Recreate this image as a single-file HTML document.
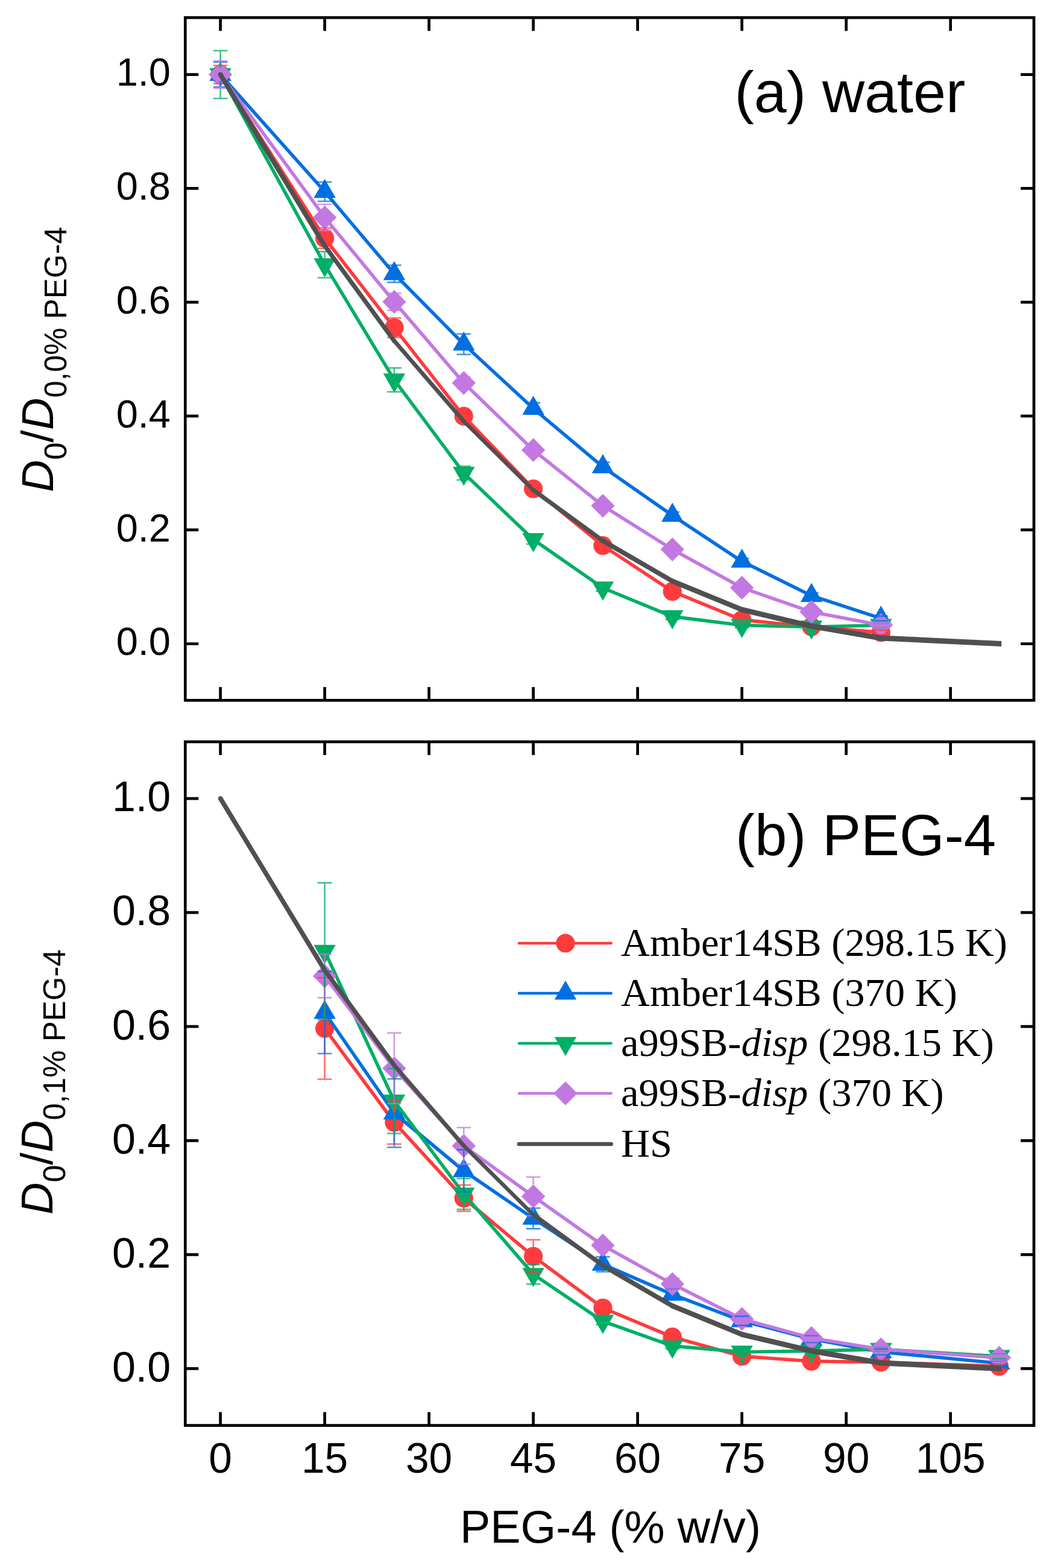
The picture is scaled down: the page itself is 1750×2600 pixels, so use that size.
<!DOCTYPE html>
<html lang="en"><head><meta charset="utf-8"><title>D0 vs PEG-4 concentration</title>
<style>
html,body{margin:0;padding:0;background:#fff;}
body{width:1750px;height:2600px;overflow:hidden;}
svg{display:block;}
</style></head><body>
<svg xmlns="http://www.w3.org/2000/svg" width="1750" height="2600" viewBox="0 0 1750 2600">
<rect width="1750" height="2600" fill="#fff"/>
<defs><clipPath id="ca"><rect x="307.3" y="29.2" width="1407.7" height="1132.05"/></clipPath><clipPath id="cb"><rect x="307.3" y="1230" width="1407.7" height="1133.6"/></clipPath></defs>
<g clip-path="url(#ca)">
<polyline points="365.6,123.6 538.61,395.07 653.95,543.35 769.29,690.22 884.63,810.48 999.97,904.68 1115.31,980.66 1230.65,1027.86 1345.99,1039.18 1461.33,1048.62" fill="none" stroke="#ff3b3d" stroke-width="5.6" stroke-linejoin="round" stroke-linecap="round"/>
<circle cx="365.6" cy="123.6" r="15.6" fill="#ff3b3d"/>
<circle cx="538.61" cy="395.07" r="15.6" fill="#ff3b3d"/>
<circle cx="653.95" cy="543.35" r="15.6" fill="#ff3b3d"/>
<circle cx="769.29" cy="690.22" r="15.6" fill="#ff3b3d"/>
<circle cx="884.63" cy="810.48" r="15.6" fill="#ff3b3d"/>
<circle cx="999.97" cy="904.68" r="15.6" fill="#ff3b3d"/>
<circle cx="1115.31" cy="980.66" r="15.6" fill="#ff3b3d"/>
<circle cx="1230.65" cy="1027.86" r="15.6" fill="#ff3b3d"/>
<circle cx="1345.99" cy="1039.18" r="15.6" fill="#ff3b3d"/>
<circle cx="1461.33" cy="1048.62" r="15.6" fill="#ff3b3d"/>
<polyline points="365.6,123.6 538.61,317.76 653.95,453.97 769.29,570.73 884.63,677.29 999.97,774.14 1115.31,854.65 1230.65,930.82 1345.99,987.65 1461.33,1025.4" fill="none" stroke="#006fe0" stroke-width="5.6" stroke-linejoin="round" stroke-linecap="round"/>
<polygon points="365.6,102.53 383.85,134.14 347.35,134.14" fill="#006fe0"/>
<polygon points="538.61,296.69 556.86,328.3 520.36,328.3" fill="#006fe0"/>
<polygon points="653.95,432.89 672.2,464.5 635.7,464.5" fill="#006fe0"/>
<polygon points="769.29,549.65 787.54,581.26 751.04,581.26" fill="#006fe0"/>
<polygon points="884.63,656.22 902.88,687.83 866.38,687.83" fill="#006fe0"/>
<polygon points="999.97,753.06 1018.22,784.67 981.72,784.67" fill="#006fe0"/>
<polygon points="1115.31,833.58 1133.56,865.19 1097.06,865.19" fill="#006fe0"/>
<polygon points="1230.65,909.75 1248.9,941.36 1212.4,941.36" fill="#006fe0"/>
<polygon points="1345.99,966.57 1364.24,998.18 1327.74,998.18" fill="#006fe0"/>
<polygon points="1461.33,1004.33 1479.58,1035.94 1443.08,1035.94" fill="#006fe0"/>
<polyline points="365.6,123.6 538.61,438.86 653.95,629.91 769.29,784.42 884.63,894.58 999.97,974.81 1115.31,1022.38 1230.65,1036.82 1345.99,1039.47 1461.33,1036.73" fill="none" stroke="#00ae66" stroke-width="5.6" stroke-linejoin="round" stroke-linecap="round"/>
<polygon points="365.6,144.67 383.85,113.06 347.35,113.06" fill="#00ae66"/>
<polygon points="538.61,459.94 556.86,428.33 520.36,428.33" fill="#00ae66"/>
<polygon points="653.95,650.98 672.2,619.37 635.7,619.37" fill="#00ae66"/>
<polygon points="769.29,805.5 787.54,773.89 751.04,773.89" fill="#00ae66"/>
<polygon points="884.63,915.65 902.88,884.04 866.38,884.04" fill="#00ae66"/>
<polygon points="999.97,995.88 1018.22,964.27 981.72,964.27" fill="#00ae66"/>
<polygon points="1115.31,1043.45 1133.56,1011.84 1097.06,1011.84" fill="#00ae66"/>
<polygon points="1230.65,1057.9 1248.9,1026.29 1212.4,1026.29" fill="#00ae66"/>
<polygon points="1345.99,1060.54 1364.24,1028.93 1327.74,1028.93" fill="#00ae66"/>
<polygon points="1461.33,1057.8 1479.58,1026.19 1443.08,1026.19" fill="#00ae66"/>
<polyline points="365.6,123.6 538.61,360.52 653.95,500.5 769.29,635.01 884.63,746.2 999.97,838.6 1115.31,911 1230.65,974.53 1345.99,1014.64 1461.33,1036.54" fill="none" stroke="#c278e2" stroke-width="5.6" stroke-linejoin="round" stroke-linecap="round"/>
<polygon points="365.6,103.9 385.3,123.6 365.6,143.3 345.9,123.6" fill="#c278e2"/>
<polygon points="538.61,340.82 558.31,360.52 538.61,380.22 518.91,360.52" fill="#c278e2"/>
<polygon points="653.95,480.8 673.65,500.5 653.95,520.2 634.25,500.5" fill="#c278e2"/>
<polygon points="769.29,615.31 788.99,635.01 769.29,654.71 749.59,635.01" fill="#c278e2"/>
<polygon points="884.63,726.5 904.33,746.2 884.63,765.9 864.93,746.2" fill="#c278e2"/>
<polygon points="999.97,818.9 1019.67,838.6 999.97,858.3 980.27,838.6" fill="#c278e2"/>
<polygon points="1115.31,891.3 1135.01,911 1115.31,930.7 1095.61,911" fill="#c278e2"/>
<polygon points="1230.65,954.83 1250.35,974.53 1230.65,994.23 1210.95,974.53" fill="#c278e2"/>
<polygon points="1345.99,994.94 1365.69,1014.64 1345.99,1034.34 1326.29,1014.64" fill="#c278e2"/>
<polygon points="1461.33,1016.84 1481.03,1036.54 1461.33,1056.24 1441.63,1036.54" fill="#c278e2"/>
<path d="M353.8 108.5H377.4M353.8 138.7H377.4" stroke="#ff3b3d" stroke-opacity="0.75" stroke-width="2.6" fill="none"/>
<path d="M538.61 378.08V379.47M538.61 410.67V412.06M526.81 378.08H550.41M526.81 412.06H550.41" stroke="#ff3b3d" stroke-opacity="0.75" stroke-width="2.6" fill="none"/>
<path d="M653.95 527.31V527.75M653.95 558.95V559.4M642.15 527.31H665.75M642.15 559.4H665.75" stroke="#ff3b3d" stroke-opacity="0.75" stroke-width="2.6" fill="none"/>
<path d="M757.49 680.78H781.09M757.49 699.66H781.09" stroke="#ff3b3d" stroke-opacity="0.75" stroke-width="2.6" fill="none"/>
<path d="M872.83 804.81H896.43M872.83 816.14H896.43" stroke="#ff3b3d" stroke-opacity="0.75" stroke-width="2.6" fill="none"/>
<path d="M988.17 899.96H1011.77M988.17 909.4H1011.77" stroke="#ff3b3d" stroke-opacity="0.75" stroke-width="2.6" fill="none"/>
<path d="M1103.51 975.94H1127.11M1103.51 985.38H1127.11" stroke="#ff3b3d" stroke-opacity="0.75" stroke-width="2.6" fill="none"/>
<path d="M1218.85 1024.08H1242.45M1218.85 1031.63H1242.45" stroke="#ff3b3d" stroke-opacity="0.75" stroke-width="2.6" fill="none"/>
<path d="M1334.19 1035.41H1357.79M1334.19 1042.96H1357.79" stroke="#ff3b3d" stroke-opacity="0.75" stroke-width="2.6" fill="none"/>
<path d="M1449.53 1044.85H1473.13M1449.53 1052.4H1473.13" stroke="#ff3b3d" stroke-opacity="0.75" stroke-width="2.6" fill="none"/>
<path d="M365.6 134.14V144.37M353.8 102.83H377.4M353.8 144.37H377.4" stroke="#006fe0" stroke-opacity="0.75" stroke-width="2.6" fill="none"/>
<path d="M538.61 328.3V333.81M526.81 301.71H550.41M526.81 333.81H550.41" stroke="#006fe0" stroke-opacity="0.75" stroke-width="2.6" fill="none"/>
<path d="M653.95 464.5V468.12M642.15 439.81H665.75M642.15 468.12H665.75" stroke="#006fe0" stroke-opacity="0.75" stroke-width="2.6" fill="none"/>
<path d="M769.29 581.26V587.72M757.49 553.74H781.09M757.49 587.72H781.09" stroke="#006fe0" stroke-opacity="0.75" stroke-width="2.6" fill="none"/>
<path d="M872.83 667.85H896.43M872.83 686.73H896.43" stroke="#006fe0" stroke-opacity="0.75" stroke-width="2.6" fill="none"/>
<path d="M988.17 766.58H1011.77M988.17 781.69H1011.77" stroke="#006fe0" stroke-opacity="0.75" stroke-width="2.6" fill="none"/>
<path d="M1103.51 848.99H1127.11M1103.51 860.31H1127.11" stroke="#006fe0" stroke-opacity="0.75" stroke-width="2.6" fill="none"/>
<path d="M1218.85 926.1H1242.45M1218.85 935.54H1242.45" stroke="#006fe0" stroke-opacity="0.75" stroke-width="2.6" fill="none"/>
<path d="M1334.19 982.93H1357.79M1334.19 992.37H1357.79" stroke="#006fe0" stroke-opacity="0.75" stroke-width="2.6" fill="none"/>
<path d="M1449.53 1021.63H1473.13M1449.53 1029.18H1473.13" stroke="#006fe0" stroke-opacity="0.75" stroke-width="2.6" fill="none"/>
<path d="M365.6 83.96V113.06M365.6 144.67V163.24M353.8 83.96H377.4M353.8 163.24H377.4" stroke="#00ae66" stroke-opacity="0.75" stroke-width="2.6" fill="none"/>
<path d="M538.61 417.15V428.33M538.61 459.94V460.57M526.81 417.15H550.41M526.81 460.57H550.41" stroke="#00ae66" stroke-opacity="0.75" stroke-width="2.6" fill="none"/>
<path d="M653.95 610.09V619.37M642.15 610.09H665.75M642.15 649.73H665.75" stroke="#00ae66" stroke-opacity="0.75" stroke-width="2.6" fill="none"/>
<path d="M769.29 773.1V773.89M757.49 773.1H781.09M757.49 795.75H781.09" stroke="#00ae66" stroke-opacity="0.75" stroke-width="2.6" fill="none"/>
<path d="M872.83 887.03H896.43M872.83 902.13H896.43" stroke="#00ae66" stroke-opacity="0.75" stroke-width="2.6" fill="none"/>
<path d="M988.17 969.15H1011.77M988.17 980.47H1011.77" stroke="#00ae66" stroke-opacity="0.75" stroke-width="2.6" fill="none"/>
<path d="M1103.51 1017.66H1127.11M1103.51 1027.1H1127.11" stroke="#00ae66" stroke-opacity="0.75" stroke-width="2.6" fill="none"/>
<path d="M1218.85 1033.05H1242.45M1218.85 1040.6H1242.45" stroke="#00ae66" stroke-opacity="0.75" stroke-width="2.6" fill="none"/>
<path d="M1334.19 1035.69H1357.79M1334.19 1043.24H1357.79" stroke="#00ae66" stroke-opacity="0.75" stroke-width="2.6" fill="none"/>
<path d="M1449.53 1032.95H1473.13M1449.53 1040.5H1473.13" stroke="#00ae66" stroke-opacity="0.75" stroke-width="2.6" fill="none"/>
<path d="M365.6 100.95V103.9M365.6 143.3V146.25M353.8 100.95H377.4M353.8 146.25H377.4" stroke="#c278e2" stroke-opacity="0.75" stroke-width="2.6" fill="none"/>
<path d="M538.61 338.81V340.82M538.61 380.22V382.23M526.81 338.81H550.41M526.81 382.23H550.41" stroke="#c278e2" stroke-opacity="0.75" stroke-width="2.6" fill="none"/>
<path d="M642.15 486.34H665.75M642.15 514.66H665.75" stroke="#c278e2" stroke-opacity="0.75" stroke-width="2.6" fill="none"/>
<path d="M757.49 625.57H781.09M757.49 644.44H781.09" stroke="#c278e2" stroke-opacity="0.75" stroke-width="2.6" fill="none"/>
<path d="M872.83 738.65H896.43M872.83 753.75H896.43" stroke="#c278e2" stroke-opacity="0.75" stroke-width="2.6" fill="none"/>
<path d="M988.17 832.94H1011.77M988.17 844.27H1011.77" stroke="#c278e2" stroke-opacity="0.75" stroke-width="2.6" fill="none"/>
<path d="M1103.51 906.28H1127.11M1103.51 915.72H1127.11" stroke="#c278e2" stroke-opacity="0.75" stroke-width="2.6" fill="none"/>
<path d="M1218.85 970.75H1242.45M1218.85 978.3H1242.45" stroke="#c278e2" stroke-opacity="0.75" stroke-width="2.6" fill="none"/>
<path d="M1334.19 1010.87H1357.79M1334.19 1018.42H1357.79" stroke="#c278e2" stroke-opacity="0.75" stroke-width="2.6" fill="none"/>
<path d="M1449.53 1032.76H1473.13M1449.53 1040.32H1473.13" stroke="#c278e2" stroke-opacity="0.75" stroke-width="2.6" fill="none"/>
<path d="M365.6 123.6L538.61 407.71" stroke="#505050" stroke-width="7.69" fill="none"/>
<path d="M538.61 407.71L653.95 565.35" stroke="#505050" stroke-width="7.26" fill="none"/>
<path d="M653.95 565.35L769.29 698.44" stroke="#505050" stroke-width="6.8" fill="none"/>
<path d="M769.29 698.44L884.63 812.65" stroke="#505050" stroke-width="6.4" fill="none"/>
<path d="M884.63 812.65L999.97 896.65" stroke="#505050" stroke-width="7.27" fill="none"/>
<path d="M999.97 896.65L1115.31 963.67" stroke="#505050" stroke-width="7.78" fill="none"/>
<path d="M1115.31 963.67L1230.65 1010.87" stroke="#505050" stroke-width="8.33" fill="none"/>
<path d="M1230.65 1010.87L1345.99 1038.24" stroke="#505050" stroke-width="8.76" fill="none"/>
<path d="M1345.99 1038.24L1461.33 1058.06" stroke="#505050" stroke-width="8.87" fill="none"/>
<path d="M1461.33 1058.06L1661.21 1067.5" stroke="#505050" stroke-width="8.99" fill="none"/>
<circle cx="365.6" cy="123.6" r="3.84" fill="#505050"/>
<circle cx="538.61" cy="407.71" r="3.84" fill="#505050"/>
<circle cx="653.95" cy="565.35" r="3.63" fill="#505050"/>
<circle cx="769.29" cy="698.44" r="3.4" fill="#505050"/>
<circle cx="884.63" cy="812.65" r="3.64" fill="#505050"/>
<circle cx="999.97" cy="896.65" r="3.89" fill="#505050"/>
<circle cx="1115.31" cy="963.67" r="4.16" fill="#505050"/>
<circle cx="1230.65" cy="1010.87" r="4.38" fill="#505050"/>
<circle cx="1345.99" cy="1038.24" r="4.43" fill="#505050"/>
<circle cx="1461.33" cy="1058.06" r="4.49" fill="#505050"/>
</g>
<g clip-path="url(#cb)">
<polyline points="538.61,1705.34 653.95,1861.03 769.29,1986.76 884.63,2083.18 999.97,2168.73 1115.31,2216.94 1230.65,2248.89 1345.99,2257.11 1461.33,2258.72 1657.41,2265.62" fill="none" stroke="#ff3b3d" stroke-width="5.6" stroke-linejoin="round" stroke-linecap="round"/>
<circle cx="538.61" cy="1705.34" r="15.6" fill="#ff3b3d"/>
<circle cx="653.95" cy="1861.03" r="15.6" fill="#ff3b3d"/>
<circle cx="769.29" cy="1986.76" r="15.6" fill="#ff3b3d"/>
<circle cx="884.63" cy="2083.18" r="15.6" fill="#ff3b3d"/>
<circle cx="999.97" cy="2168.73" r="15.6" fill="#ff3b3d"/>
<circle cx="1115.31" cy="2216.94" r="15.6" fill="#ff3b3d"/>
<circle cx="1230.65" cy="2248.89" r="15.6" fill="#ff3b3d"/>
<circle cx="1345.99" cy="2257.11" r="15.6" fill="#ff3b3d"/>
<circle cx="1461.33" cy="2258.72" r="15.6" fill="#ff3b3d"/>
<circle cx="1657.41" cy="2265.62" r="15.6" fill="#ff3b3d"/>
<polyline points="538.61,1678.97 653.95,1845.72 769.29,1941.38 884.63,2020.31 999.97,2096.41 1115.31,2146.32 1230.65,2190.18 1345.99,2220.24 1461.33,2241.7 1657.41,2260.42" fill="none" stroke="#006fe0" stroke-width="5.6" stroke-linejoin="round" stroke-linecap="round"/>
<polygon points="538.61,1657.89 556.86,1689.5 520.36,1689.5" fill="#006fe0"/>
<polygon points="653.95,1824.64 672.2,1856.25 635.7,1856.25" fill="#006fe0"/>
<polygon points="769.29,1920.31 787.54,1951.92 751.04,1951.92" fill="#006fe0"/>
<polygon points="884.63,1999.24 902.88,2030.85 866.38,2030.85" fill="#006fe0"/>
<polygon points="999.97,2075.34 1018.22,2106.95 981.72,2106.95" fill="#006fe0"/>
<polygon points="1115.31,2125.25 1133.56,2156.86 1097.06,2156.86" fill="#006fe0"/>
<polygon points="1230.65,2169.11 1248.9,2200.72 1212.4,2200.72" fill="#006fe0"/>
<polygon points="1345.99,2199.17 1364.24,2230.78 1327.74,2230.78" fill="#006fe0"/>
<polygon points="1461.33,2220.63 1479.58,2252.24 1443.08,2252.24" fill="#006fe0"/>
<polygon points="1657.41,2239.35 1675.66,2270.96 1639.16,2270.96" fill="#006fe0"/>
<polyline points="538.61,1577.35 653.95,1825.58 769.29,1979.67 884.63,2113.05 999.97,2190.85 1115.31,2231.87 1230.65,2241.8 1345.99,2240.1 1461.33,2237.35 1657.41,2249.08" fill="none" stroke="#00ae66" stroke-width="5.6" stroke-linejoin="round" stroke-linecap="round"/>
<polygon points="538.61,1598.42 556.86,1566.81 520.36,1566.81" fill="#00ae66"/>
<polygon points="653.95,1846.65 672.2,1815.05 635.7,1815.05" fill="#00ae66"/>
<polygon points="769.29,2000.74 787.54,1969.13 751.04,1969.13" fill="#00ae66"/>
<polygon points="884.63,2134.12 902.88,2102.51 866.38,2102.51" fill="#00ae66"/>
<polygon points="999.97,2211.92 1018.22,2180.31 981.72,2180.31" fill="#00ae66"/>
<polygon points="1115.31,2252.94 1133.56,2221.33 1097.06,2221.33" fill="#00ae66"/>
<polygon points="1230.65,2262.87 1248.9,2231.26 1212.4,2231.26" fill="#00ae66"/>
<polygon points="1345.99,2261.17 1364.24,2229.56 1327.74,2229.56" fill="#00ae66"/>
<polygon points="1461.33,2258.43 1479.58,2226.82 1443.08,2226.82" fill="#00ae66"/>
<polygon points="1657.41,2270.15 1675.66,2238.54 1639.16,2238.54" fill="#00ae66"/>
<polyline points="538.61,1618.47 653.95,1771.42 769.29,1900.07 884.63,1983.82 999.97,2065.12 1115.31,2129.12 1230.65,2187.06 1345.99,2218.64 1461.33,2237.35 1657.41,2251.34" fill="none" stroke="#c278e2" stroke-width="5.6" stroke-linejoin="round" stroke-linecap="round"/>
<polygon points="538.61,1598.77 558.31,1618.47 538.61,1638.17 518.91,1618.47" fill="#c278e2"/>
<polygon points="653.95,1751.72 673.65,1771.42 653.95,1791.12 634.25,1771.42" fill="#c278e2"/>
<polygon points="769.29,1880.37 788.99,1900.07 769.29,1919.77 749.59,1900.07" fill="#c278e2"/>
<polygon points="884.63,1964.12 904.33,1983.82 884.63,2003.52 864.93,1983.82" fill="#c278e2"/>
<polygon points="999.97,2045.42 1019.67,2065.12 999.97,2084.82 980.27,2065.12" fill="#c278e2"/>
<polygon points="1115.31,2109.42 1135.01,2129.12 1115.31,2148.82 1095.61,2129.12" fill="#c278e2"/>
<polygon points="1230.65,2167.36 1250.35,2187.06 1230.65,2206.76 1210.95,2187.06" fill="#c278e2"/>
<polygon points="1345.99,2198.94 1365.69,2218.64 1345.99,2238.34 1326.29,2218.64" fill="#c278e2"/>
<polygon points="1461.33,2217.65 1481.03,2237.35 1461.33,2257.05 1441.63,2237.35" fill="#c278e2"/>
<polygon points="1657.41,2231.64 1677.11,2251.34 1657.41,2271.04 1637.71,2251.34" fill="#c278e2"/>
<path d="M538.61 1621.21V1689.74M538.61 1720.94V1789.47M526.81 1621.21H550.41M526.81 1789.47H550.41" stroke="#ff3b3d" stroke-opacity="0.75" stroke-width="2.6" fill="none"/>
<path d="M653.95 1825.11V1845.43M653.95 1876.63V1896.95M642.15 1825.11H665.75M642.15 1896.95H665.75" stroke="#ff3b3d" stroke-opacity="0.75" stroke-width="2.6" fill="none"/>
<path d="M769.29 1965.01V1971.16M769.29 2002.36V2008.5M757.49 1965.01H781.09M757.49 2008.5H781.09" stroke="#ff3b3d" stroke-opacity="0.75" stroke-width="2.6" fill="none"/>
<path d="M884.63 2055.76V2067.58M884.63 2098.78V2110.59M872.83 2055.76H896.43M872.83 2110.59H896.43" stroke="#ff3b3d" stroke-opacity="0.75" stroke-width="2.6" fill="none"/>
<path d="M988.17 2163.05H1011.77M988.17 2174.4H1011.77" stroke="#ff3b3d" stroke-opacity="0.75" stroke-width="2.6" fill="none"/>
<path d="M1103.51 2212.21H1127.11M1103.51 2221.66H1127.11" stroke="#ff3b3d" stroke-opacity="0.75" stroke-width="2.6" fill="none"/>
<path d="M1218.85 2245.11H1242.45M1218.85 2252.67H1242.45" stroke="#ff3b3d" stroke-opacity="0.75" stroke-width="2.6" fill="none"/>
<path d="M1334.19 2253.33H1357.79M1334.19 2260.89H1357.79" stroke="#ff3b3d" stroke-opacity="0.75" stroke-width="2.6" fill="none"/>
<path d="M1449.53 2254.94H1473.13M1449.53 2262.5H1473.13" stroke="#ff3b3d" stroke-opacity="0.75" stroke-width="2.6" fill="none"/>
<path d="M1645.61 2261.84H1669.21M1645.61 2269.4H1669.21" stroke="#ff3b3d" stroke-opacity="0.75" stroke-width="2.6" fill="none"/>
<path d="M538.61 1610.9V1657.89M538.61 1689.5V1747.03M526.81 1610.9H550.41M526.81 1747.03H550.41" stroke="#006fe0" stroke-opacity="0.75" stroke-width="2.6" fill="none"/>
<path d="M653.95 1789V1824.64M653.95 1856.25V1902.43M642.15 1789H665.75M642.15 1902.43H665.75" stroke="#006fe0" stroke-opacity="0.75" stroke-width="2.6" fill="none"/>
<path d="M769.29 1906.4V1920.31M769.29 1951.92V1976.36M757.49 1906.4H781.09M757.49 1976.36H781.09" stroke="#006fe0" stroke-opacity="0.75" stroke-width="2.6" fill="none"/>
<path d="M884.63 2030.85V2037.33M872.83 2003.3H896.43M872.83 2037.33H896.43" stroke="#006fe0" stroke-opacity="0.75" stroke-width="2.6" fill="none"/>
<path d="M999.97 2106.95V2108.7M988.17 2084.12H1011.77M988.17 2108.7H1011.77" stroke="#006fe0" stroke-opacity="0.75" stroke-width="2.6" fill="none"/>
<path d="M1103.51 2137.81H1127.11M1103.51 2154.83H1127.11" stroke="#006fe0" stroke-opacity="0.75" stroke-width="2.6" fill="none"/>
<path d="M1218.85 2182.62H1242.45M1218.85 2197.75H1242.45" stroke="#006fe0" stroke-opacity="0.75" stroke-width="2.6" fill="none"/>
<path d="M1334.19 2214.57H1357.79M1334.19 2225.92H1357.79" stroke="#006fe0" stroke-opacity="0.75" stroke-width="2.6" fill="none"/>
<path d="M1449.53 2236.98H1473.13M1449.53 2246.43H1473.13" stroke="#006fe0" stroke-opacity="0.75" stroke-width="2.6" fill="none"/>
<path d="M1645.61 2256.64H1669.21M1645.61 2264.2H1669.21" stroke="#006fe0" stroke-opacity="0.75" stroke-width="2.6" fill="none"/>
<path d="M538.61 1463.91V1566.81M538.61 1598.42V1690.78M526.81 1463.91H550.41M526.81 1690.78H550.41" stroke="#00ae66" stroke-opacity="0.75" stroke-width="2.6" fill="none"/>
<path d="M653.95 1771.7V1815.05M653.95 1846.65V1879.46M642.15 1771.7H665.75M642.15 1879.46H665.75" stroke="#00ae66" stroke-opacity="0.75" stroke-width="2.6" fill="none"/>
<path d="M769.29 1954.14V1969.13M769.29 2000.74V2005.19M757.49 1954.14H781.09M757.49 2005.19H781.09" stroke="#00ae66" stroke-opacity="0.75" stroke-width="2.6" fill="none"/>
<path d="M884.63 2096.98V2102.51M872.83 2096.98H896.43M872.83 2129.12H896.43" stroke="#00ae66" stroke-opacity="0.75" stroke-width="2.6" fill="none"/>
<path d="M988.17 2185.17H1011.77M988.17 2196.52H1011.77" stroke="#00ae66" stroke-opacity="0.75" stroke-width="2.6" fill="none"/>
<path d="M1103.51 2227.15H1127.11M1103.51 2236.6H1127.11" stroke="#00ae66" stroke-opacity="0.75" stroke-width="2.6" fill="none"/>
<path d="M1218.85 2237.07H1242.45M1218.85 2246.52H1242.45" stroke="#00ae66" stroke-opacity="0.75" stroke-width="2.6" fill="none"/>
<path d="M1334.19 2235.37H1357.79M1334.19 2244.82H1357.79" stroke="#00ae66" stroke-opacity="0.75" stroke-width="2.6" fill="none"/>
<path d="M1449.53 2233.57H1473.13M1449.53 2241.14H1473.13" stroke="#00ae66" stroke-opacity="0.75" stroke-width="2.6" fill="none"/>
<path d="M1645.61 2245.29H1669.21M1645.61 2252.86H1669.21" stroke="#00ae66" stroke-opacity="0.75" stroke-width="2.6" fill="none"/>
<path d="M538.61 1582.55V1598.77M538.61 1638.17V1654.39M526.81 1582.55H550.41M526.81 1654.39H550.41" stroke="#c278e2" stroke-opacity="0.75" stroke-width="2.6" fill="none"/>
<path d="M653.95 1712.81V1751.72M653.95 1791.12V1830.02M642.15 1712.81H665.75M642.15 1830.02H665.75" stroke="#c278e2" stroke-opacity="0.75" stroke-width="2.6" fill="none"/>
<path d="M769.29 1869.82V1880.37M769.29 1919.77V1930.32M757.49 1869.82H781.09M757.49 1930.32H781.09" stroke="#c278e2" stroke-opacity="0.75" stroke-width="2.6" fill="none"/>
<path d="M884.63 1951.68V1964.12M884.63 2003.52V2015.97M872.83 1951.68H896.43M872.83 2015.97H896.43" stroke="#c278e2" stroke-opacity="0.75" stroke-width="2.6" fill="none"/>
<path d="M988.17 2057.56H1011.77M988.17 2072.68H1011.77" stroke="#c278e2" stroke-opacity="0.75" stroke-width="2.6" fill="none"/>
<path d="M1103.51 2119.66H1127.11M1103.51 2138.57H1127.11" stroke="#c278e2" stroke-opacity="0.75" stroke-width="2.6" fill="none"/>
<path d="M1218.85 2179.5H1242.45M1218.85 2194.63H1242.45" stroke="#c278e2" stroke-opacity="0.75" stroke-width="2.6" fill="none"/>
<path d="M1334.19 2212.97H1357.79M1334.19 2224.31H1357.79" stroke="#c278e2" stroke-opacity="0.75" stroke-width="2.6" fill="none"/>
<path d="M1449.53 2232.63H1473.13M1449.53 2242.08H1473.13" stroke="#c278e2" stroke-opacity="0.75" stroke-width="2.6" fill="none"/>
<path d="M1645.61 2246.62H1669.21M1645.61 2256.07H1669.21" stroke="#c278e2" stroke-opacity="0.75" stroke-width="2.6" fill="none"/>
<path d="M365.6 1324.1L538.61 1608.64" stroke="#505050" stroke-width="7.69" fill="none"/>
<path d="M538.61 1608.64L653.95 1766.5" stroke="#505050" stroke-width="7.27" fill="none"/>
<path d="M653.95 1766.5L769.29 1899.79" stroke="#505050" stroke-width="6.81" fill="none"/>
<path d="M769.29 1899.79L884.63 2014.17" stroke="#505050" stroke-width="6.39" fill="none"/>
<path d="M884.63 2014.17L999.97 2098.3" stroke="#505050" stroke-width="7.27" fill="none"/>
<path d="M999.97 2098.3L1115.31 2165.42" stroke="#505050" stroke-width="7.78" fill="none"/>
<path d="M1115.31 2165.42L1230.65 2212.68" stroke="#505050" stroke-width="8.33" fill="none"/>
<path d="M1230.65 2212.68L1345.99 2240.1" stroke="#505050" stroke-width="8.76" fill="none"/>
<path d="M1345.99 2240.1L1461.33 2259.95" stroke="#505050" stroke-width="8.87" fill="none"/>
<path d="M1461.33 2259.95L1661.21 2269.4" stroke="#505050" stroke-width="8.99" fill="none"/>
<circle cx="365.6" cy="1324.1" r="3.85" fill="#505050"/>
<circle cx="538.61" cy="1608.64" r="3.85" fill="#505050"/>
<circle cx="653.95" cy="1766.5" r="3.63" fill="#505050"/>
<circle cx="769.29" cy="1899.79" r="3.4" fill="#505050"/>
<circle cx="884.63" cy="2014.17" r="3.64" fill="#505050"/>
<circle cx="999.97" cy="2098.3" r="3.89" fill="#505050"/>
<circle cx="1115.31" cy="2165.42" r="4.16" fill="#505050"/>
<circle cx="1230.65" cy="2212.68" r="4.38" fill="#505050"/>
<circle cx="1345.99" cy="2240.1" r="4.43" fill="#505050"/>
<circle cx="1461.33" cy="2259.95" r="4.49" fill="#505050"/>
</g>
<rect x="307.3" y="29.2" width="1407.7" height="1132.05" fill="none" stroke="#000" stroke-width="4.7" stroke-linejoin="miter"/>
<rect x="307.3" y="1230" width="1407.7" height="1133.6" fill="none" stroke="#000" stroke-width="4.7" stroke-linejoin="miter"/>
<path d="M365.6 29.2V51.2M365.6 1161.25V1139.25M538.61 29.2V51.2M538.61 1161.25V1139.25M711.62 29.2V51.2M711.62 1161.25V1139.25M884.63 29.2V51.2M884.63 1161.25V1139.25M1057.64 29.2V51.2M1057.64 1161.25V1139.25M1230.65 29.2V51.2M1230.65 1161.25V1139.25M1403.66 29.2V51.2M1403.66 1161.25V1139.25M1576.67 29.2V51.2M1576.67 1161.25V1139.25M365.6 1230V1252M365.6 2363.6V2341.6M538.61 1230V1252M538.61 2363.6V2341.6M711.62 1230V1252M711.62 2363.6V2341.6M884.63 1230V1252M884.63 2363.6V2341.6M1057.64 1230V1252M1057.64 2363.6V2341.6M1230.65 1230V1252M1230.65 2363.6V2341.6M1403.66 1230V1252M1403.66 2363.6V2341.6M1576.67 1230V1252M1576.67 2363.6V2341.6M307.3 1067.5H329.3M1715 1067.5H1693M307.3 878.72H329.3M1715 878.72H1693M307.3 689.94H329.3M1715 689.94H1693M307.3 501.16H329.3M1715 501.16H1693M307.3 312.38H329.3M1715 312.38H1693M307.3 123.6H329.3M1715 123.6H1693M307.3 2269.4H329.3M1715 2269.4H1693M307.3 2080.34H329.3M1715 2080.34H1693M307.3 1891.28H329.3M1715 1891.28H1693M307.3 1702.22H329.3M1715 1702.22H1693M307.3 1513.16H329.3M1715 1513.16H1693M307.3 1324.1H329.3M1715 1324.1H1693" stroke="#000" stroke-width="4.7" fill="none"/>
<text x="283" y="1086.3" font-family="'Liberation Sans', Arial, Helvetica, sans-serif" font-size="65" text-anchor="end">0.0</text>
<text x="283" y="897.52" font-family="'Liberation Sans', Arial, Helvetica, sans-serif" font-size="65" text-anchor="end">0.2</text>
<text x="283" y="708.74" font-family="'Liberation Sans', Arial, Helvetica, sans-serif" font-size="65" text-anchor="end">0.4</text>
<text x="283" y="519.96" font-family="'Liberation Sans', Arial, Helvetica, sans-serif" font-size="65" text-anchor="end">0.6</text>
<text x="283" y="331.18" font-family="'Liberation Sans', Arial, Helvetica, sans-serif" font-size="65" text-anchor="end">0.8</text>
<text x="283" y="142.4" font-family="'Liberation Sans', Arial, Helvetica, sans-serif" font-size="65" text-anchor="end">1.0</text>
<text x="283.2" y="2290.7" font-family="'Liberation Sans', Arial, Helvetica, sans-serif" font-size="70" text-anchor="end">0.0</text>
<text x="283.2" y="2101.64" font-family="'Liberation Sans', Arial, Helvetica, sans-serif" font-size="70" text-anchor="end">0.2</text>
<text x="283.2" y="1912.58" font-family="'Liberation Sans', Arial, Helvetica, sans-serif" font-size="70" text-anchor="end">0.4</text>
<text x="283.2" y="1723.52" font-family="'Liberation Sans', Arial, Helvetica, sans-serif" font-size="70" text-anchor="end">0.6</text>
<text x="283.2" y="1534.46" font-family="'Liberation Sans', Arial, Helvetica, sans-serif" font-size="70" text-anchor="end">0.8</text>
<text x="283.2" y="1345.4" font-family="'Liberation Sans', Arial, Helvetica, sans-serif" font-size="70" text-anchor="end">1.0</text>
<text x="365.6" y="2442.4" font-family="'Liberation Sans', Arial, Helvetica, sans-serif" font-size="69.5" text-anchor="middle">0</text>
<text x="538.61" y="2442.4" font-family="'Liberation Sans', Arial, Helvetica, sans-serif" font-size="69.5" text-anchor="middle">15</text>
<text x="711.62" y="2442.4" font-family="'Liberation Sans', Arial, Helvetica, sans-serif" font-size="69.5" text-anchor="middle">30</text>
<text x="884.63" y="2442.4" font-family="'Liberation Sans', Arial, Helvetica, sans-serif" font-size="69.5" text-anchor="middle">45</text>
<text x="1057.64" y="2442.4" font-family="'Liberation Sans', Arial, Helvetica, sans-serif" font-size="69.5" text-anchor="middle">60</text>
<text x="1230.65" y="2442.4" font-family="'Liberation Sans', Arial, Helvetica, sans-serif" font-size="69.5" text-anchor="middle">75</text>
<text x="1403.66" y="2442.4" font-family="'Liberation Sans', Arial, Helvetica, sans-serif" font-size="69.5" text-anchor="middle">90</text>
<text x="1576.67" y="2442.4" font-family="'Liberation Sans', Arial, Helvetica, sans-serif" font-size="69.5" text-anchor="middle">105</text>
<text x="1012.5" y="2558" font-family="'Liberation Sans', Arial, Helvetica, sans-serif" font-size="75.5" text-anchor="middle">PEG-4 (% w/v)</text>
<text transform="translate(88.4 816) rotate(-90)" font-family="'Liberation Sans', Arial, Helvetica, sans-serif" font-size="74"><tspan font-style="italic">D</tspan><tspan font-size="52" dy="21.4">0</tspan><tspan dy="-21.4">/</tspan><tspan font-style="italic">D</tspan><tspan font-size="51" dy="21.4">0,0% PEG-4</tspan></text>
<text transform="translate(86.6 2014) rotate(-90)" font-family="'Liberation Sans', Arial, Helvetica, sans-serif" font-size="74"><tspan font-style="italic">D</tspan><tspan font-size="52" dy="21.4">0</tspan><tspan dy="-21.4">/</tspan><tspan font-style="italic">D</tspan><tspan font-size="51" dy="21.4">0,1% PEG-4</tspan></text>
<text x="1218.5" y="186.1" font-family="'Liberation Sans', Arial, Helvetica, sans-serif" font-size="97">(a) water</text>
<text x="1220" y="1417.7" font-family="'Liberation Sans', Arial, Helvetica, sans-serif" font-size="96">(b) PEG-4</text>
<path d="M860.8 1564H1013.8" stroke="#ff3b3d" stroke-width="4.3" stroke-linecap="round"/>
<circle cx="938" cy="1564" r="15.6" fill="#ff3b3d"/>
<text x="1030" y="1585" font-family="'Liberation Serif', 'Times New Roman', serif" font-size="66.5">Amber14SB (298.15 K)</text>
<path d="M860.8 1647H1013.8" stroke="#006fe0" stroke-width="4.3" stroke-linecap="round"/>
<polygon points="938,1625.93 956.25,1657.54 919.75,1657.54" fill="#006fe0"/>
<text x="1030" y="1668" font-family="'Liberation Serif', 'Times New Roman', serif" font-size="66.5">Amber14SB (370 K)</text>
<path d="M860.8 1730H1013.8" stroke="#00ae66" stroke-width="4.3" stroke-linecap="round"/>
<polygon points="938,1751.07 956.25,1719.46 919.75,1719.46" fill="#00ae66"/>
<text x="1030" y="1751" font-family="'Liberation Serif', 'Times New Roman', serif" font-size="66.5">a99SB-<tspan font-style="italic">disp</tspan> (298.15 K)</text>
<path d="M860.8 1813H1013.8" stroke="#c278e2" stroke-width="4.3" stroke-linecap="round"/>
<polygon points="938,1793.3 957.7,1813 938,1832.7 918.3,1813" fill="#c278e2"/>
<text x="1030" y="1834" font-family="'Liberation Serif', 'Times New Roman', serif" font-size="66.5">a99SB-<tspan font-style="italic">disp</tspan> (370 K)</text>
<path d="M860.8 1897H1013.8" stroke="#505050" stroke-width="6.5" stroke-linecap="round"/>
<text x="1030" y="1918" font-family="'Liberation Serif', 'Times New Roman', serif" font-size="66.5">HS</text>
</svg>
</body></html>
